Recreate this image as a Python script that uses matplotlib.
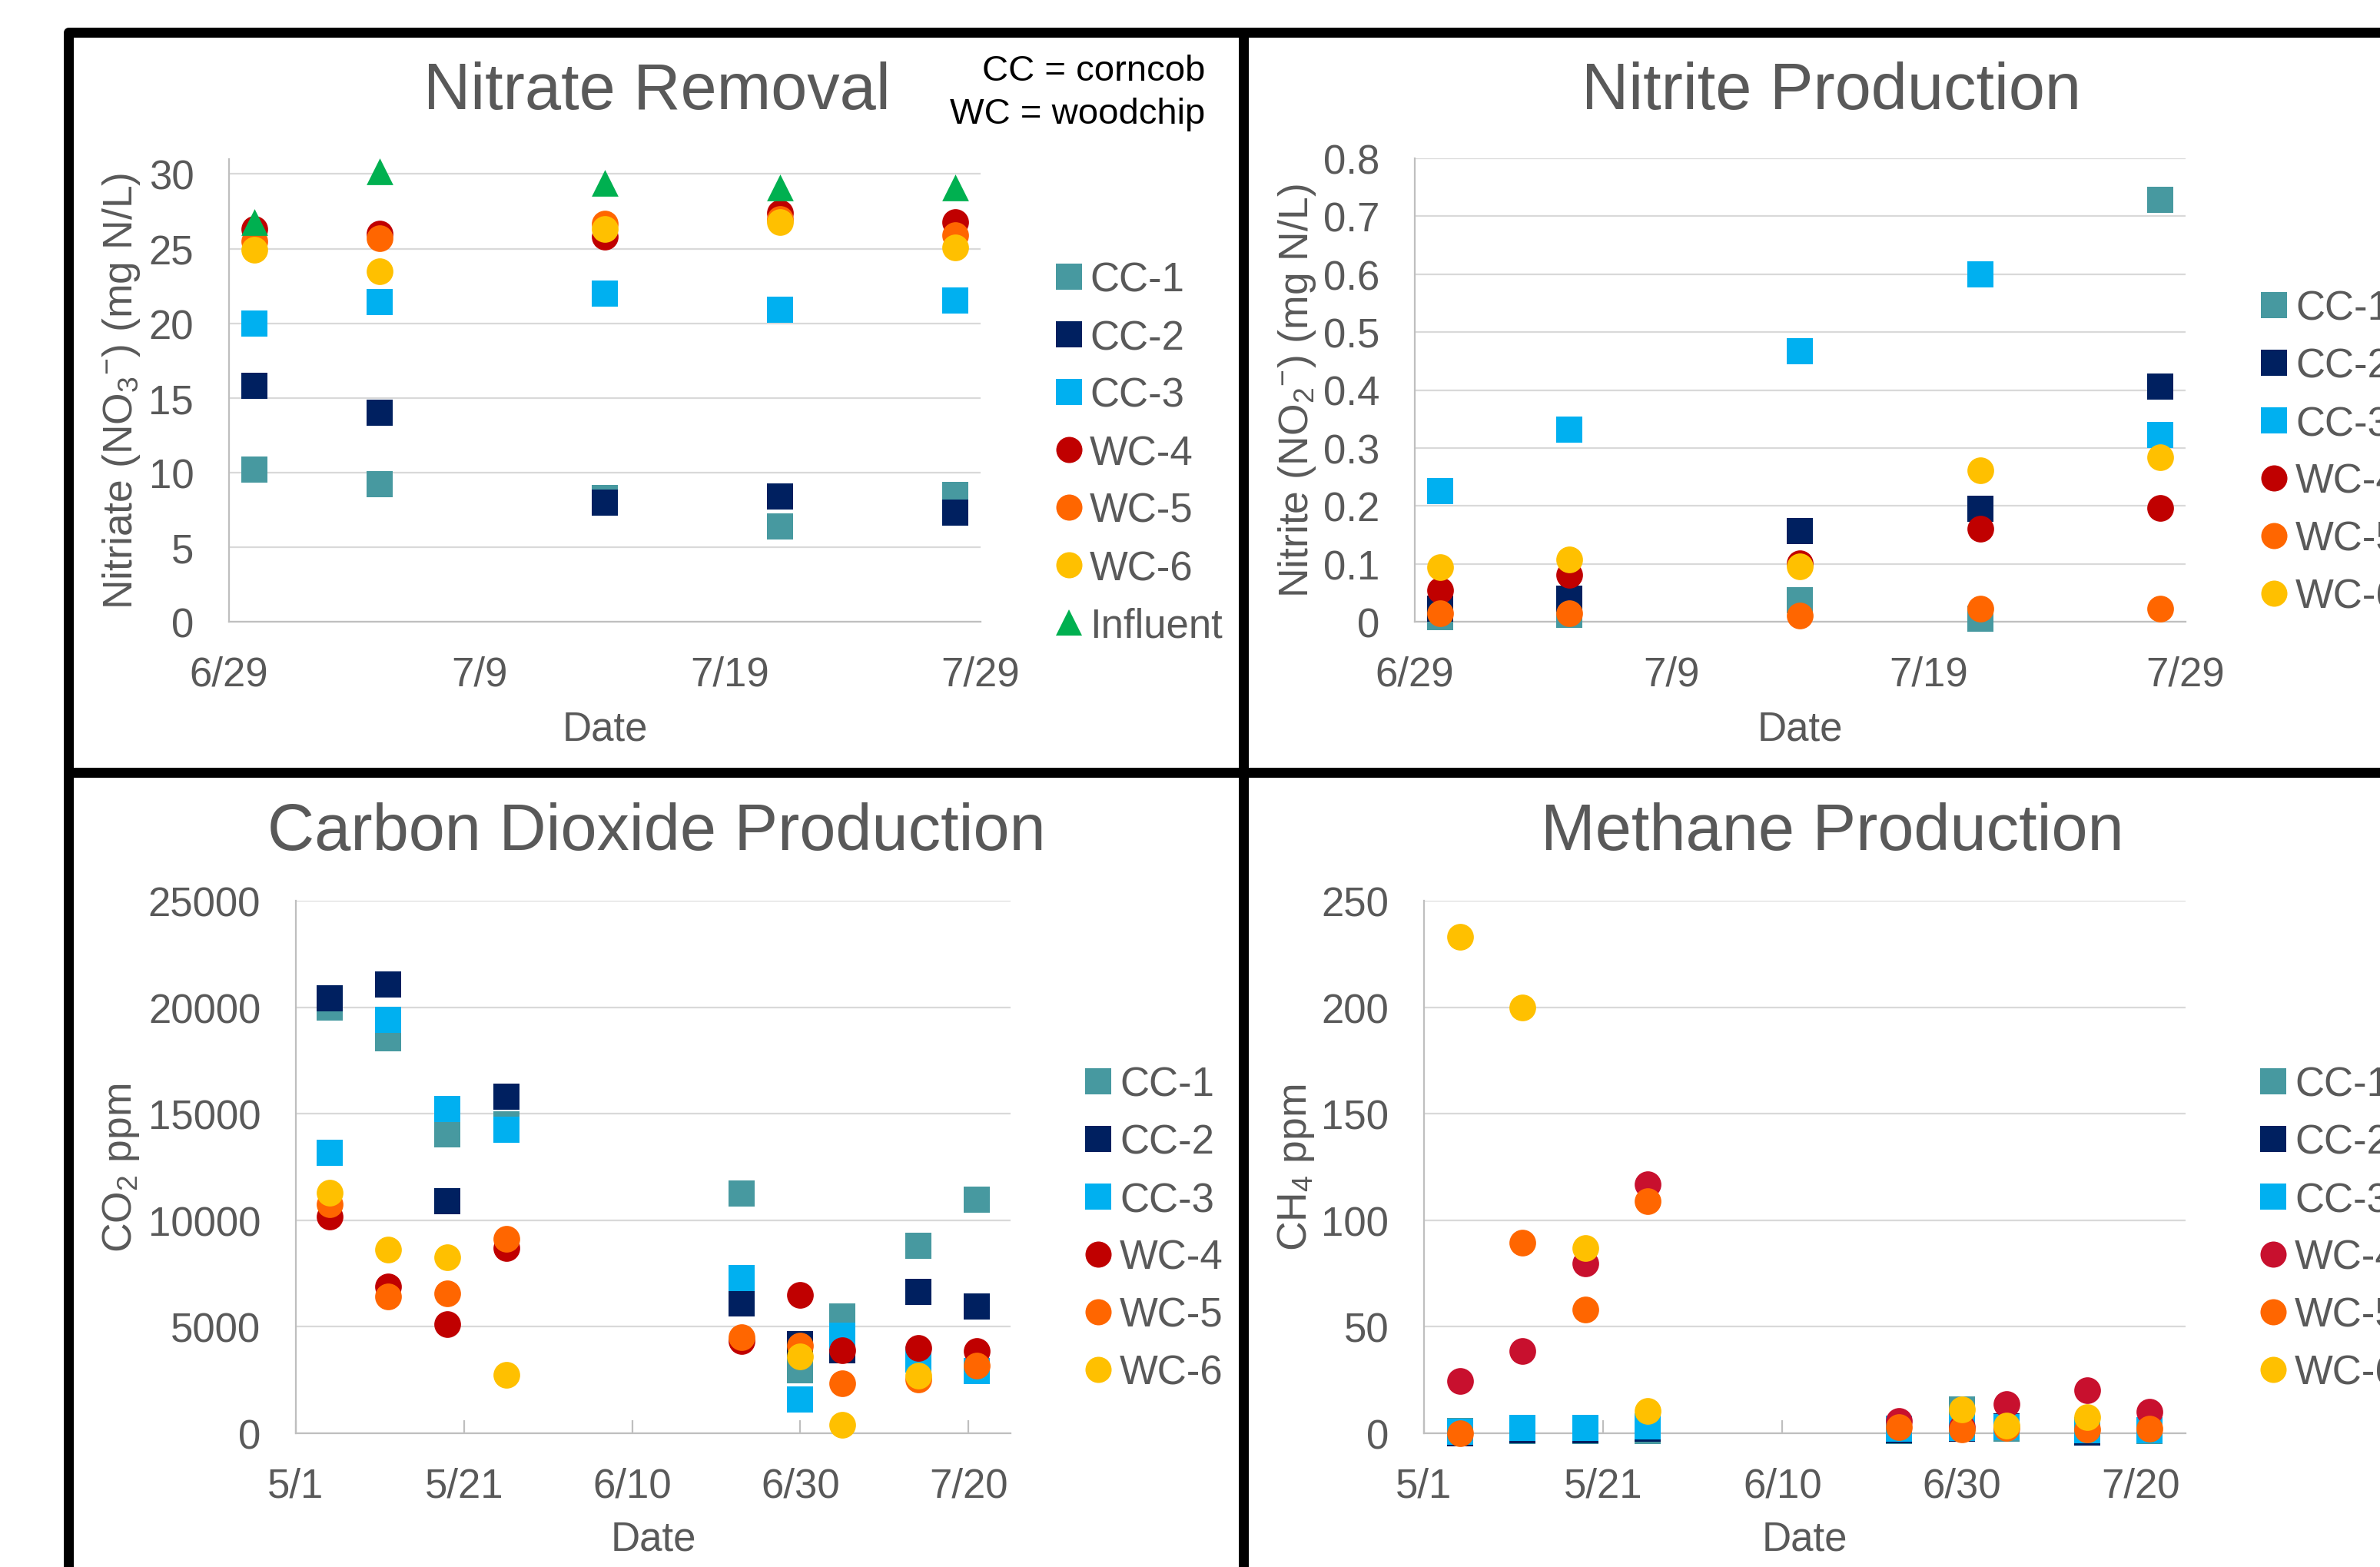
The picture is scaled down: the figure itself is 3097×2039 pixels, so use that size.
import matplotlib
matplotlib.use("Agg")
import matplotlib.pyplot as plt
import matplotlib.dates as mdates
from matplotlib.lines import Line2D
from matplotlib.ticker import FuncFormatter, MultipleLocator
from datetime import datetime
import numpy as np

plt.rcParams['font.family'] = ['Liberation Sans', 'DejaVu Sans']
plt.rcParams['mathtext.fontset'] = 'custom'
plt.rcParams['mathtext.rm'] = 'Liberation Sans'
plt.rcParams['mathtext.it'] = 'Liberation Sans:italic'
plt.rcParams['mathtext.default'] = 'regular'

# ---------------- data ----------------
series_names = ['CC-1', 'CC-2', 'CC-3', 'WC-4', 'WC-5', 'WC-6']

nitrate_dates = ['6/30', '7/5', '7/14', '7/21', '7/28']
nitrate_cc1 = [10.2, 9.2, 8.3, 6.4, 8.5]
nitrate_cc2 = [15.8, 14.0, 8.0, 8.4, 7.3]
nitrate_cc3 = [20.0, 21.4, 22.0, 20.9, 21.5]
nitrate_wc4 = [26.3, 26.0, 25.8, 27.4, 26.8]
nitrate_wc5 = [25.5, 25.7, 26.7, 27.0, 25.9]
nitrate_wc6 = [24.9, 23.5, 26.3, 26.8, 25.1]
nitrate_influent = [26.8, 30.2, 29.4, 29.1, 29.1]

nitrite_cc1 = [0.008, 0.012, 0.037, 0.005, 0.728]
nitrite_cc2 = [0.023, 0.040, 0.157, 0.195, 0.406]
nitrite_cc3 = [0.225, 0.332, 0.467, 0.600, 0.322]
nitrite_wc4 = [0.054, 0.081, 0.101, 0.160, 0.197]
nitrite_wc5 = [0.015, 0.014, 0.011, 0.023, 0.023]
nitrite_wc6 = [0.094, 0.108, 0.095, 0.262, 0.284]

gas_dates = ['5/5', '5/12', '5/19', '5/26', '6/23', '6/30', '7/5', '7/14', '7/21']
co2_cc1 = [20000, 18550, 14050, 14500, 11240, 2950, 5500, 8810, 10950]
co2_cc2 = [20430, 21070, 10900, 15790, 6080, 4170, 3880, 6620, 5940]
co2_cc3 = [13170, 19400, 15210, 14240, 7270, 1580, 4570, 3450, 2920]
co2_wc4 = [10190, 6900, 5120, 8690, 4320, 6510, 3880, 4000, 3850]
co2_wc5 = [10760, 6430, 6550, 9140, 4500, 4130, 2340, 2520, 3170]
co2_wc6 = [11290, 8620, 8260, 2740, np.nan, 3600, 400, 2700, np.nan]

ch4_cc1 = [1.0, 1.0, 1.0, 1.0, 1.0, 11.2, 2.0, 1.0, 1.0]
ch4_cc2 = [0.0, 1.5, 1.5, 2.0, 1.5, 2.0, 3.3, 0.5, 1.5]
ch4_cc3 = [0.7, 2.5, 2.5, 3.2, 2.2, 2.5, 3.0, 1.5, 1.6]
ch4_wc4 = [24.5, 38.6, 79.8, 117.0, 5.7, 3.0, 13.7, 20.2, 10.0]
ch4_wc5 = [0.0, 89.3, 58.0, 109.0, 2.9, 1.8, 2.5, 1.8, 2.3]
ch4_wc6 = [233.0, 200.0, 86.9, 10.5, np.nan, 11.2, 3.6, 7.6, np.nan]

nitrate_ticks = ['6/29', '7/9', '7/19', '7/29']
gas_ticks = ['5/1', '5/21', '6/10', '6/30', '7/20']

# ---------------- styles ----------------
colors = {'CC-1': '#4799A0', 'CC-2': '#002060', 'CC-3': '#00B0F0',
          'WC-4': '#C00000', 'WC-5': '#FF6600', 'WC-6': '#FFC000',
          'Influent': '#00B050'}
markers = {'CC-1': 's', 'CC-2': 's', 'CC-3': 's', 'WC-4': 'o', 'WC-5': 'o',
           'WC-6': 'o', 'Influent': '^'}
msize = {'s': 24, 'o': 25, '^': 25}
TXT = '#595959'
GRID = '#D9D9D9'
AXC = '#BFBFBF'

W, H = 3097, 2040
fig = plt.figure(figsize=(W / 100, H / 100), dpi=100)
fig.patch.set_facecolor('white')


def d2n(s):
    m, d = s.split('/')
    return mdates.date2num(datetime(2016, int(m), int(d)))


def fx(px):
    return px / W


def fy(py):
    return 1 - py / H


def add_axes(l, t, r, b):
    ax = fig.add_axes([l / W, 1 - b / H, (r - l) / W, (b - t) / H])
    ax._pix = (l, t, r, b)
    return ax


date_fmt = FuncFormatter(lambda v, p: f"{mdates.num2date(v).month}/{mdates.num2date(v).day}")


def style_axes(ax, xticks, xlim, ylim, ystep, yfmt, xtick_len):
    ax.set_xlim(d2n(xlim[0]), d2n(xlim[1]))
    ax.set_ylim(*ylim)
    ax.set_xticks([d2n(t) for t in xticks])
    ax.xaxis.set_major_formatter(date_fmt)
    ax.yaxis.set_major_locator(MultipleLocator(ystep))
    ax.yaxis.set_major_formatter(FuncFormatter(yfmt))
    for s in ['top', 'right']:
        ax.spines[s].set_visible(False)
    for s in ['left', 'bottom']:
        ax.spines[s].set_color(AXC)
        ax.spines[s].set_linewidth(1.6)
    ax.grid(axis='y', color=GRID, linewidth=1.6)
    ax.set_axisbelow(True)
    ax.tick_params(axis='y', length=0, pad=33, labelsize=38, labelcolor=TXT)
    ax.tick_params(axis='x', length=xtick_len, width=1.6, direction='in', color=AXC,
                   pad=31, labelsize=38, labelcolor=TXT)
    ax.set_facecolor('none')


def set_labels(ax, xlabel, xbase, ylabel, ycenter_x):
    l, t, r, b = ax._pix
    ax.set_xlabel(xlabel, fontsize=38, color=TXT, va='baseline')
    ax.xaxis.set_label_coords(0.5, (b - xbase) / (b - t))
    ax.set_ylabel(ylabel, fontsize=38.5, color=TXT, va='center')
    ax.yaxis.set_label_coords((ycenter_x - l) / (r - l), 0.5)


def plot_series(ax, dates, names, data, color_over=None):
    x = [d2n(d) for d in dates]
    for name, vals in zip(names, data):
        mk = markers[name]
        c = colors[name] if not color_over or name not in color_over else color_over[name]
        ax.scatter(x, vals, s=msize[mk] ** 2, marker=mk, c=c, linewidths=0,
                   clip_on=False, zorder=3)


def legend(names, mx, tx, y0, step=75, color_over=None):
    for i, name in enumerate(names):
        y = y0 + i * step
        mk = markers[name]
        c = colors[name] if not color_over or name not in color_over else color_over[name]
        fig.add_artist(Line2D([fx(mx)], [fy(y)], marker=mk, markersize=24.5,
                              color=c, markeredgewidth=0, linestyle='none',
                              transform=fig.transFigure))
        fig.text(fx(tx), fy(y + 19), name, fontsize=38, color=TXT, va='baseline', ha='left')


# ---------------- Nitrate ----------------
ax1 = add_axes(298, 208, 1276, 810)
plot_series(ax1, nitrate_dates, series_names + ['Influent'],
            [nitrate_cc1, nitrate_cc2, nitrate_cc3, nitrate_wc4, nitrate_wc5, nitrate_wc6,
             nitrate_influent])
style_axes(ax1, nitrate_ticks, ('6/29', '7/29'), (0, 31), 5, lambda v, p: f"{v:g}", 0)
set_labels(ax1, 'Date', 964, r'Nitriate (NO$_{3}$$^{-}$) (mg N/L)', 158)
fig.text(fx(855), fy(142), 'Nitrate Removal', fontsize=61, color=TXT, ha='center', va='baseline')
fig.text(fx(1568), fy(105), 'CC = corncob', fontsize=34, color='black', ha='right', va='baseline')
fig.text(fx(1568), fy(161), 'WC = woodchip', fontsize=34, color='black', ha='right', va='baseline')
legend(series_names + ['Influent'], 1391, 1418, 361)

# ---------------- Nitrite ----------------
ax2 = add_axes(1841, 207, 2844, 810)
plot_series(ax2, nitrate_dates, series_names,
            [nitrite_cc1, nitrite_cc2, nitrite_cc3, nitrite_wc4, nitrite_wc5, nitrite_wc6])
style_axes(ax2, nitrate_ticks, ('6/29', '7/29'), (0, 0.8), 0.1, lambda v, p: f"{round(v, 1):g}", 0)
set_labels(ax2, 'Date', 964, r'Nitrite (NO$_{2}$$^{-}$) (mg N/L)', 1688)
fig.text(fx(2383), fy(142), 'Nitrite Production', fontsize=61, color=TXT, ha='center', va='baseline')
legend(series_names, 2959, 2987, 398)

# ---------------- CO2 ----------------
ax3 = add_axes(385, 1173, 1315, 1866)
plot_series(ax3, gas_dates, series_names,
            [co2_cc1, co2_cc2, co2_cc3, co2_wc4, co2_wc5, co2_wc6])
style_axes(ax3, gas_ticks, ('5/1', '7/25'), (0, 25000), 5000, lambda v, p: f"{v:.0f}", 12)
set_labels(ax3, 'Date', 2018, r'CO$_2$ ppm', 157)
fig.text(fx(854), fy(1106), 'Carbon Dioxide Production', fontsize=61, color=TXT, ha='center', va='baseline')
legend(series_names, 1429, 1457, 1408)

# ---------------- CH4 ----------------
ch4_over = {'WC-4': '#C8102E'}
ax4 = add_axes(1853, 1173, 2844, 1866)
plot_series(ax4, gas_dates, series_names,
            [ch4_cc1, ch4_cc2, ch4_cc3, ch4_wc4, ch4_wc5, ch4_wc6], color_over=ch4_over)
style_axes(ax4, gas_ticks, ('5/1', '7/25'), (0, 250), 50, lambda v, p: f"{v:.0f}", 12)
set_labels(ax4, 'Date', 2018, r'CH$_4$ ppm', 1687)
fig.text(fx(2384), fy(1106), 'Methane Production', fontsize=61, color=TXT, ha='center', va='baseline')
legend(series_names, 2958, 2986, 1408, color_over=ch4_over)

# ---------------- panel frame lines ----------------
lw = 13 * 0.72
fig.add_artist(Line2D([fx(89), fx(89), fx(3120)], [fy(2060), fy(43), fy(43)], color='black',
                      linewidth=lw, solid_joinstyle='round', solid_capstyle='butt',
                      transform=fig.transFigure))
fig.add_artist(Line2D([fx(1618), fx(1618)], [fy(43), fy(2060)], color='black', linewidth=lw,
                      solid_capstyle='butt', transform=fig.transFigure))
fig.add_artist(Line2D([fx(89), fx(3120)], [fy(1006), fy(1006)], color='black', linewidth=lw,
                      solid_capstyle='butt', transform=fig.transFigure))

fig.savefig('out.png', dpi=100, facecolor='white')
